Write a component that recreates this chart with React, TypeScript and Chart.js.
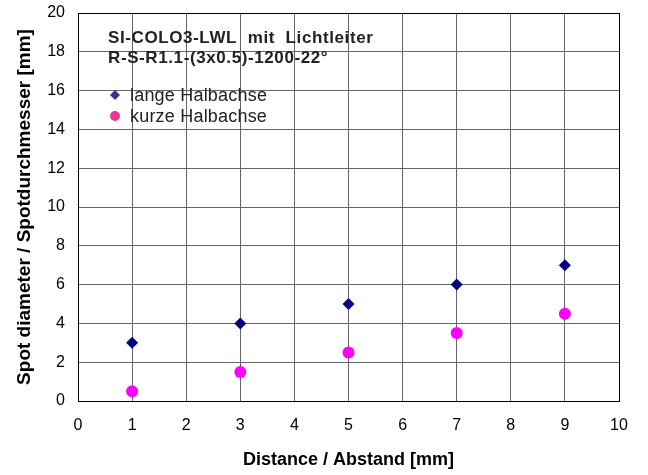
import React, { useEffect, useRef } from "react";
import { Chart, registerables } from "chart.js";

Chart.register(...registerables);

const distances = [1, 3, 5, 7, 9];
const langeHalbachse = [3, 4, 5, 6, 7];
const kurzeHalbachse = [0.5, 1.5, 2.5, 3.5, 4.5];
const titleLines = ["SI-COLO3-LWL  mit  Lichtleiter", "R-S-R1.1-(3x0.5)-1200-22°"];
const seriesNames = ["lange Halbachse", "kurze Halbachse"];
const xTitle = "Distance / Abstand [mm]";
const yTitle = "Spot diameter / Spotdurchmesser [mm]";

const FONT = "'Liberation Sans', Arial, sans-serif";

const innerTitlePlugin = {
  id: "innerTitle",
  afterDraw(chart: any) {
    const { ctx, chartArea } = chart;
    ctx.save();
    ctx.fillStyle = "#222";
    ctx.textBaseline = "middle";
    ctx.textAlign = "left";
    ctx.font = `bold 17px ${FONT}`;
    (ctx as any).letterSpacing = "0.6px";
    ctx.fillText(titleLines[0], chartArea.left + 30, chartArea.top + 25);
    ctx.fillText(titleLines[1], chartArea.left + 30, chartArea.top + 45);
    // legend
    ctx.font = `18px ${FONT}`;
    (ctx as any).letterSpacing = "0.2px";
    const lx = chartArea.left + 37;
    const ly1 = chartArea.top + 82;
    const ly2 = chartArea.top + 103;
    ctx.fillStyle = "#333399";
    ctx.beginPath();
    ctx.moveTo(lx, ly1 - 5);
    ctx.lineTo(lx + 5, ly1);
    ctx.lineTo(lx, ly1 + 5);
    ctx.lineTo(lx - 5, ly1);
    ctx.closePath();
    ctx.fill();
    ctx.fillStyle = "#ee3399";
    ctx.beginPath();
    ctx.arc(lx, ly2, 5, 0, Math.PI * 2);
    ctx.fill();
    ctx.fillStyle = "#222";
    ctx.fillText(seriesNames[0], lx + 15, ly1 + 1);
    ctx.fillText(seriesNames[1], lx + 15, ly2 + 1);
    ctx.restore();
  },
};

export default function App() {
  const ref = useRef<HTMLCanvasElement>(null);
  useEffect(() => {
    document.body.style.margin = "0";
    const chart = new Chart(ref.current!, {
      type: "scatter",
      data: {
        datasets: [
          {
            label: seriesNames[0],
            data: distances.map((x, i) => ({ x, y: langeHalbachse[i] })),
            pointStyle: "rectRot",
            pointRadius: 6,
            backgroundColor: "#000080",
            borderColor: "#000080",
            borderWidth: 0,
          },
          {
            label: seriesNames[1],
            data: distances.map((x, i) => ({ x, y: kurzeHalbachse[i] })),
            pointStyle: "circle",
            pointRadius: 6,
            backgroundColor: "#FF00FF",
            borderColor: "#FF00FF",
            borderWidth: 0,
          },
        ],
      },
      options: {
        animation: false,
        responsive: false,
        layout: { padding: { top: 13, right: 29, left: 10, bottom: 4 } },
        plugins: { legend: { display: false }, tooltip: { enabled: false } },
        scales: {
          x: {
            type: "linear",
            min: 0,
            max: 10,
            ticks: { stepSize: 1, color: "#000", font: { family: FONT, size: 16 }, padding: 15 },
            grid: { color: "#666", lineWidth: 1, tickLength: 0 },
            border: { color: "#000", width: 1 },
            title: {
              display: true,
              text: xTitle,
              color: "#000",
              font: { family: FONT, size: 18, weight: "bold" },
              padding: { top: 0, bottom: 0 },
            },
            afterFit: (s: any) => {
              s.height = 70;
              s.paddingLeft = 0;
              s.paddingRight = 0;
            },
          },
          y: {
            type: "linear",
            min: 0,
            max: 20,
            ticks: { stepSize: 2, color: "#000", font: { family: FONT, size: 16 }, padding: 13 },
            grid: { color: "#666", lineWidth: 1, tickLength: 0 },
            border: { color: "#000", width: 1 },
            title: {
              display: true,
              text: yTitle,
              color: "#000",
              font: { family: FONT, size: 19, weight: "bold" },
              padding: { top: 3, bottom: 0 },
            },
            afterFit: (s: any) => {
              s.width = 68;
              s.paddingTop = 0;
              s.paddingBottom = 0;
            },
          },
        },
      },
      plugins: [
        innerTitlePlugin,
        {
          id: "frame",
          afterDraw(chart: any) {
            const { ctx, chartArea: a } = chart;
            ctx.save();
            ctx.strokeStyle = "#000";
            ctx.lineWidth = 1;
            ctx.strokeRect(Math.round(a.left) + 0.5, Math.round(a.top) + 0.5, Math.round(a.right - a.left), Math.round(a.bottom - a.top));
            ctx.restore();
          },
        },
      ],
    } as any);
    return () => chart.destroy();
  }, []);
  return (
    <div style={{ position: "absolute", left: 0, top: 0, width: 648, height: 475, background: "#fff" }}>
      <canvas ref={ref} width={648} height={475} style={{ display: "block" }} />
    </div>
  );
}
